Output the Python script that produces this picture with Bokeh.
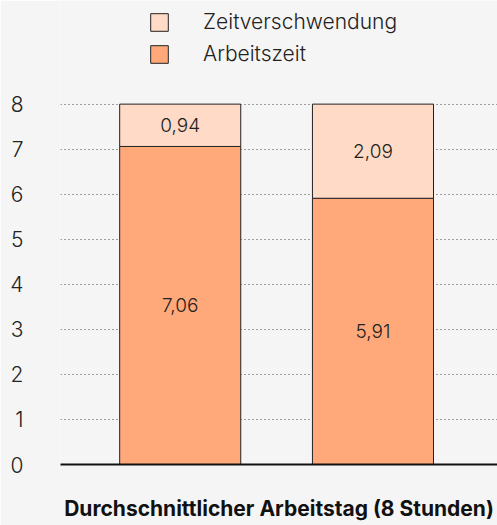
from bokeh.plotting import figure
from bokeh.models import ColumnDataSource, FixedTicker, Legend, LegendItem, Range1d
from bokeh.core.properties import value
from bokeh.embed import file_html
from bokeh.resources import INLINE

# ---- data ----
categories = ["Tag 1", "Tag 2"]
arbeitszeit = [7.06, 5.91]
zeitverschwendung = [0.94, 2.09]
series_names = ["Arbeitszeit", "Zeitverschwendung"]
y_ticks = [0, 1, 2, 3, 4, 5, 6, 7, 8]
x_title = "Durchschnittlicher Arbeitstag (8 Stunden)"

def fmt(v):
    return f"{v:.2f}".replace(".", ",")

BG = "#f5f5f5"
C_WORK = "#ffa97a"
C_WASTE = "#ffdac6"
TXT = "#222222"
FONT = "Inter"
LIGHT = "Inter Light"

xs = list(range(len(categories)))
src = ColumnDataSource(dict(
    x=xs,
    Arbeitszeit=arbeitszeit,
    Zeitverschwendung=zeitverschwendung,
))

lab_x = xs + xs
lab_y = [a / 2 for a in arbeitszeit] + [a + z / 2 for a, z in zip(arbeitszeit, zeitverschwendung)]
lab_t = [fmt(a) for a in arbeitszeit] + [fmt(z) for z in zeitverschwendung]
lab_src = ColumnDataSource(dict(x=lab_x, y=lab_y, t=lab_t))

p = figure(width=497, height=525, output_backend="svg", toolbar_location=None,
           x_range=Range1d(-0.621, 1.646), y_range=Range1d(0, 10.3),
           min_border_left=60, min_border_right=0, min_border_top=0, min_border_bottom=61)
p.background_fill_color = BG
p.border_fill_color = BG
p.outline_line_color = None

rs = p.vbar_stack(series_names, x="x", width=0.628, source=src,
                  color=[C_WORK, C_WASTE], line_color="#222222", line_width=1)

p.text(x="x", y="y", text="t", source=lab_src, text_align="center",
       text_baseline="middle", text_font=value(LIGHT), text_font_size="19px",
       text_color=TXT)

# axes
p.yaxis.ticker = FixedTicker(ticks=y_ticks)
p.yaxis.axis_line_color = None
p.yaxis.major_tick_line_color = None
p.yaxis.minor_tick_line_color = None
p.yaxis.major_tick_out = 0
p.yaxis.major_label_standoff = 37
p.yaxis.major_label_text_font = LIGHT
p.yaxis.major_label_text_font_size = "21px"
p.yaxis.major_label_text_color = TXT

p.xaxis.ticker = FixedTicker(ticks=[])
p.xaxis.axis_line_color = "#111111"
p.xaxis.axis_line_width = 2
p.xaxis.major_tick_line_color = None
p.xaxis.minor_tick_line_color = None
p.xaxis.axis_label = x_title
p.xaxis.axis_label_text_font = FONT
p.xaxis.axis_label_text_font_size = "21px"
p.xaxis.axis_label_text_font_style = "bold"
p.xaxis.axis_label_text_color = "#111111"
p.xaxis.axis_label_standoff = 31

p.xgrid.grid_line_color = None
p.ygrid.grid_line_color = "#444444"
p.ygrid.grid_line_dash = "1 3"
p.ygrid.grid_line_width = 1

legend = Legend(items=[
    LegendItem(label=series_names[1], renderers=[rs[1]]),
    LegendItem(label=series_names[0], renderers=[rs[0]]),
], location=(88, 398), orientation="vertical")
legend.padding = 0
legend.margin = 0
legend.border_line_color = None
legend.background_fill_alpha = 0
legend.glyph_width = 22
legend.glyph_height = 22
legend.label_height = 20
legend.spacing = 7
legend.label_standoff = 33
legend.label_text_font = LIGHT
legend.label_text_font_size = "21px"
legend.label_text_color = TXT
p.add_layout(legend)

html = file_html(p, INLINE)
html = html.replace("<body>", f'<body style="margin:0;background:{BG}">', 1)
open("out.html", "w").write(html)
